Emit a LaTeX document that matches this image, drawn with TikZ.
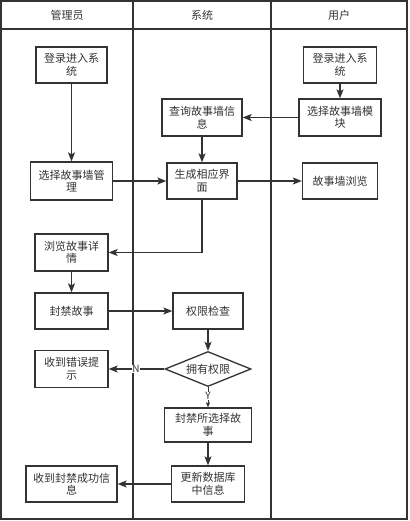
\documentclass[tikz,border=0pt]{standalone}
\usepackage{fontspec}
\setmainfont{Noto Sans CJK SC}
\usetikzlibrary{arrows.meta,shapes.geometric}

\definecolor{lncol}{HTML}{333333}
\definecolor{txcol}{HTML}{333333}

\begin{document}
\begin{tikzpicture}[
            x=1pt, y=-1pt,
            bx/.style={rectangle, draw=lncol, line width=1.3pt, text=txcol, align=center,
                       inner sep=1pt, font=\fontsize{11}{12.5}\selectfont},
            dm/.style={diamond, draw=lncol, line width=1.3pt, text=txcol, inner sep=0pt,
                       minimum width=86pt, minimum height=35pt, aspect=2.46,
                       font=\fontsize{11}{12.5}\selectfont},
            hd/.style={text=txcol, font=\fontsize{11}{12.5}\selectfont},
            lbl/.style={fill=white, text=txcol, inner sep=0.5pt, font=\fontsize{10}{11}\selectfont},
            arr/.style={draw=lncol, line width=1.3pt, -{Stealth[length=9pt,width=7pt,inset=2pt]}},
            thinarr/.style={draw=lncol, line width=0.6pt, -{Stealth[length=5pt,width=4pt,inset=1pt]}}
        ]
        \useasboundingbox (0,0) rectangle (409,521);

        % Swimlanes
        \draw[lncol, line width=1.3pt] (1,1) rectangle (407,519);
        \draw[lncol, line width=1.3pt] (1,29) -- (407,29);
        \draw[lncol, line width=1.3pt] (133,1) -- (133,519);
        \draw[lncol, line width=1.3pt] (271,1) -- (271,519);
        \node[hd] (Hadm) at (67,15)  {管理员};
        \node[hd] (Hsys) at (202,15) {系统};
        \node[hd] (Husr) at (339,15) {用户};

        % Admin lane
        \node[bx, minimum width=71pt, minimum height=36pt] (Alogin)  at (71.5,65)    {登录进入系\\统};
        \node[bx, minimum width=82pt, minimum height=38pt] (Amanage) at (71.5,181)   {选择故事墙管\\理};
        \node[bx, minimum width=73pt, minimum height=37pt] (Adetail) at (71.5,252.5) {浏览故事详\\情};
        \node[bx, minimum width=73pt, minimum height=36pt] (Ablock)  at (71.5,311)   {封禁故事};
        \node[bx, minimum width=73pt, minimum height=37pt] (Aerror)  at (71.5,369)   {收到错误提\\示};
        \node[bx, minimum width=91pt, minimum height=36pt] (Aok)     at (71.5,484)   {收到封禁成功信\\息};

        % System lane
        \node[bx, minimum width=80pt, minimum height=37pt] (Squery) at (202,117.5) {查询故事墙信\\息};
        \node[bx, minimum width=70pt, minimum height=36pt] (Sgen)   at (202,181)   {生成相应界\\面};
        \node[bx, minimum width=70pt, minimum height=36pt] (Scheck) at (208,311)   {权限检查};
        \node[dm] (Shas) at (208,369) {拥有权限};
        \node[bx, minimum width=87pt, minimum height=34pt] (Sblock) at (208,425)   {封禁所选择故\\事};
        \node[bx, minimum width=73pt, minimum height=36pt] (Supd)   at (208,484)   {更新数据库\\中信息};

        % User lane
        \node[bx, minimum width=73pt, minimum height=36pt] (Ulogin)  at (340,65)    {登录进入系\\统};
        \node[bx, minimum width=82pt, minimum height=37pt] (Umodule) at (340,117.5) {选择故事墙模\\块};
        \node[bx, minimum width=75pt, minimum height=36pt] (Ubrowse) at (340,181)   {故事墙浏览};

        % Connections
        \draw[arr] (Alogin) -- (Amanage);
        \draw[arr] (Ulogin) -- (Umodule);
        \draw[arr] (Umodule) -- (Squery);
        \draw[arr] (Squery) -- (Sgen);
        \draw[arr] (Amanage) -- (Sgen);
        \draw[arr] (Sgen) -- (Ubrowse);
        \draw[arr] (Sgen.south) |- (Adetail.east);
        \draw[arr] (Adetail) -- (Ablock);
        \draw[arr] (Ablock) -- (Scheck);
        \draw[arr] (Scheck) -- (Shas);
        \draw[arr] (Shas) -- node[lbl, pos=0.51] {N} (Aerror);
        \draw[thinarr] (Shas) -- node[lbl, pos=0.45] {Y} (Sblock);
        \draw[arr] (Sblock) -- (Supd);
        \draw[arr] (Supd) -- (Aok);
    \end{tikzpicture}
\end{document}
